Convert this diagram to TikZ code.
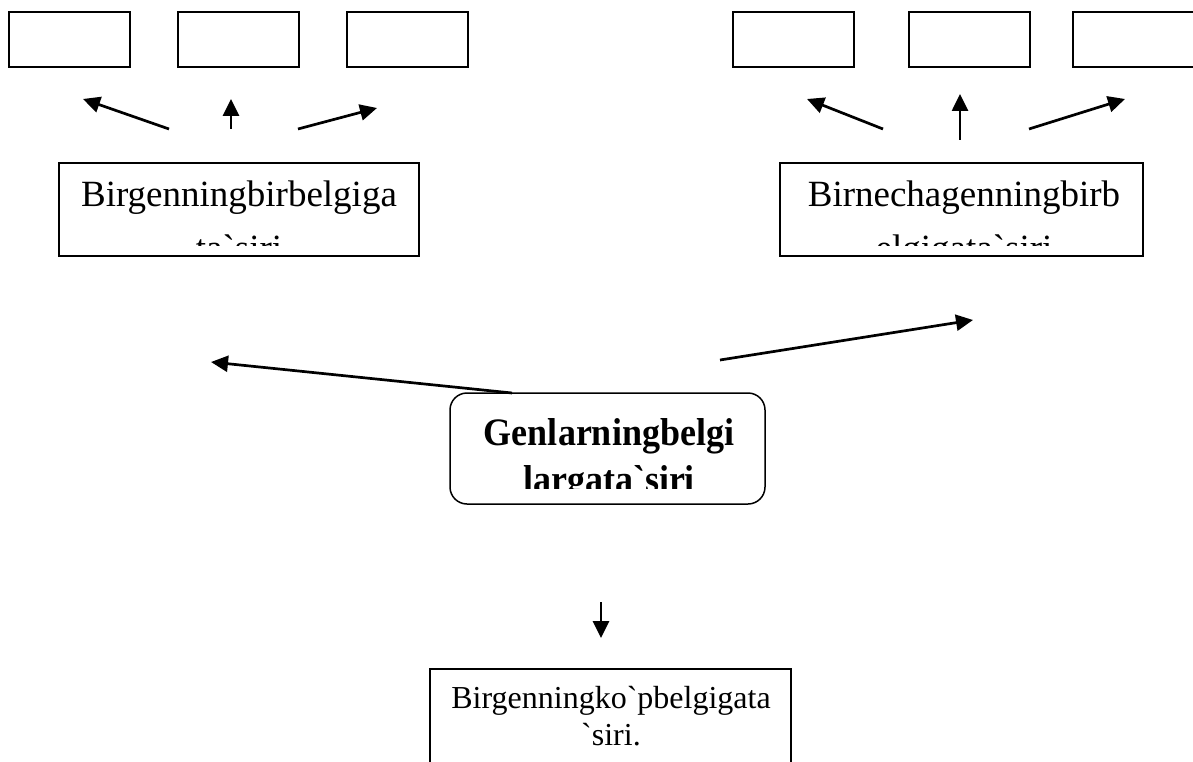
\documentclass[tikz,border=0pt]{standalone}
\usepackage{fontspec}
\usepackage{graphicx}
\setmainfont{Liberation Serif}[Ligatures=TeXOff]
\usetikzlibrary{arrows.meta}
\begin{document}
\begin{tikzpicture}[x=1pt,y=-1pt,
  box/.style={draw,line width=1.5pt,inner sep=0pt,minimum width=121pt,minimum height=55pt},
  bigbox/.style={draw,line width=1.5pt,inner sep=0pt},
  arr/.style={line width=2.7pt,-{Triangle[length=17pt,width=16pt]}},
  txtA/.style={anchor=base,inner sep=0pt,font=\fontsize{37}{44}\selectfont},
  txtB/.style={anchor=base,inner sep=0pt,font=\fontsize{36}{44}\selectfont\bfseries},
  txtC/.style={anchor=base,inner sep=0pt,font=\fontsize{32}{38}\selectfont}]
\useasboundingbox (0,0) rectangle (1193,762);
\clip (0,0) rectangle (1193,762);
\fill[white] (0,0) rectangle (1193,762);

% top small boxes
\node[box] (b1) at (69.5,39.5) {};
\node[box] (b2) at (238.5,39.5) {};
\node[box] (b3) at (407.5,39.5) {};
\node[box] (b4) at (793.5,39.5) {};
\node[box] (b5) at (969.5,39.5) {};
\node[box] (b6) at (1133.5,39.5) {};

% big boxes
\node[bigbox,minimum width=360pt,minimum height=93pt] (L) at (239,209.5) {};
\node[bigbox,minimum width=363pt,minimum height=93pt] (R) at (961.5,209.5) {};
\node[bigbox,rounded corners=17pt,minimum width=315pt,minimum height=111pt] (G) at (607.5,448.5) {};
\node[bigbox,minimum width=361pt,minimum height=140pt] (B) at (610.5,739) {};

% clipped texts
\begin{scope}
\clip (59,163) rectangle (419,245);
\node[txtA] (L1) at (239,207) {Birgenningbirbelgiga};
\node[txtA] (L2) at (239,260) {ta`siri};
\end{scope}
\begin{scope}
\clip (780,163) rectangle (1143,245);
\node[txtA] (R1) at (964,207) {Birnechagenningbirb};
\node[txtA] (R2) at (964,260) {elgigata`siri};
\end{scope}
\begin{scope}
\clip (450,393) rectangle (765,488);
\node[txtB] (G1) at (609,445) {\scalebox{1}[1.08]{Genlarningbelgi}};
\node[txtB] (G2) at (609,492) {\scalebox{1}[1.08]{largata`siri}};
\end{scope}
\node[txtC] (B1) at (611,708) {Birgenningko`pbelgigata};
\node[txtC] (B2) at (611,745) {`siri.};

% arrow coordinates
\coordinate (s1) at (169,129); \coordinate (e1) at (83,99);
\coordinate (s2) at (231,129); \coordinate (e2) at (231,99);
\coordinate (s3) at (298,129); \coordinate (e3) at (377,108);
\coordinate (s4) at (883,129); \coordinate (e4) at (807,99);
\coordinate (s5) at (960,140); \coordinate (e5) at (960,94);
\coordinate (s6) at (1029,129); \coordinate (e6) at (1125,99);
\coordinate (s7) at (512,393); \coordinate (e7) at (211,362);
\coordinate (s8) at (720,360); \coordinate (e8) at (973,320);
\coordinate (s9) at (601,602); \coordinate (e9) at (601,638);

\foreach \i in {1,...,9} {\draw[arr] (s\i) -- (e\i);}
\end{tikzpicture}
\end{document}
